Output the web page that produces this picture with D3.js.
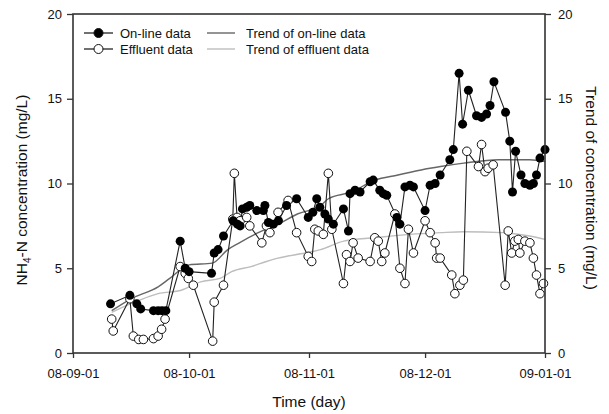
<!DOCTYPE html>
<html>
<head>
<meta charset="utf-8">
<script src="https://cdn.jsdelivr.net/npm/d3@7/dist/d3.min.js"></script>
<style>
    body { margin: 0; background: #fff; }
    svg text { font-family: "Liberation Sans", Arial, sans-serif; fill: #111; }
</style>
</head>
<body>
<script>
// axis ticks
var xTickDates = ["2008-09-01", "2008-10-01", "2008-11-01", "2008-12-01", "2009-01-01"];
var xTickLabels = ["08-09-01", "08-10-01", "08-11-01", "08-12-01", "09-01-01"];
var yTicks = [0, 5, 10, 15, 20];

// on-line data (days after 2008-09-01)
var onlineDays = [9.7, 14.7, 16.5, 17.5, 20.8, 22, 23, 24, 27.7, 29, 30, 35.8, 36.5, 37.5, 38.9,
    41.4, 42.5, 43.2, 43.8, 44.9, 45.7, 47.5, 49.2, 49.6, 50.5, 51.8, 53.1, 55.2, 57.8, 60.8,
    62, 63, 63.8, 65.1, 66, 67.3, 69.9, 71.2, 71.6, 72.9, 74.2, 76.8, 77.6, 79.3, 80.2, 81.1,
    83.7, 84.5, 85.8, 87.1, 88, 91, 92.3, 93.6, 94.9, 97.4, 98.3, 99.8, 100.7, 102.2, 104.3,
    105.6, 106.9, 107.8, 108.8, 111.8, 112.9, 113.6, 114.4, 115.8, 116.8, 118.1, 119, 119.8,
    120.7, 122];
var onlineValues = [2.9, 3.4, 2.9, 2.6, 2.5, 2.5, 2.5, 2.5, 6.6, 5.0, 4.8, 4.7, 5.9, 6.1, 6.9,
    7.8, 7.6, 7.5, 8.5, 8.6, 8.7, 8.4, 8.4, 8.7, 7.7, 7.6, 7.8, 8.7, 9.1, 8.0,
    8.3, 9.1, 8.6, 8.2, 7.9, 7.6, 8.5, 7.2, 9.4, 9.6, 9.5, 10.1, 10.2, 9.6, 9.4, 9.3,
    8.0, 7.6, 9.8, 9.9, 9.8, 8.4, 9.9, 10.0, 10.5, 11.4, 12.0, 16.5, 13.5, 15.5, 14.0,
    13.9, 14.1, 14.6, 16.0, 14.2, 12.5, 9.5, 11.9, 10.5, 10.0, 9.9, 10.0, 10.5,
    11.5, 12.0];

// effluent data
var effluentDays = [10, 10.4, 14.7, 15.6, 17, 18.2, 20.8, 22, 22.9, 23.8, 27.7, 29, 29.8, 31.1,
    36.1, 36.5, 38.9, 41.3, 41.7, 42.4, 43.2, 44.9, 45.7, 48.8, 50, 50.9, 53, 55.6, 57.8,
    60.8, 61.7, 62.5, 63.4, 64.7, 66, 66.9, 69.9, 70.7, 71.6, 72.4, 73.7, 76.8, 78, 78.9,
    79.8, 80.6, 83.2, 84.5, 85.8, 86.7, 88, 91, 92.3, 93.6, 94, 94.9, 97.9, 98.7, 100,
    100.9, 101.8, 104.8, 105.6, 106.5, 107.3, 108.6, 111.7, 112.5, 113.4, 114.2, 115.1,
    115.5, 116.8, 118.1, 119, 119.8, 120.7, 121.6];
var effluentValues = [2.0, 1.3, 3.2, 1.0, 0.8, 0.8, 0.85, 1.0, 1.4, 2.0, 5.1, 4.7, 4.4, 4.0,
    0.7, 3.0, 4.0, 7.9, 10.6, 8.0, 7.8, 8.0, 7.5, 6.5, 7.5, 7.1, 8.3, 9.0, 7.1,
    5.7, 5.4, 7.3, 7.2, 7.0, 10.6, 7.3, 4.1, 5.8, 5.4, 6.5, 5.6, 5.4, 6.8, 6.6,
    5.4, 5.9, 8.2, 5.0, 4.1, 7.3, 5.9, 7.8, 7.1, 6.5, 5.6, 5.6, 4.6, 3.5, 4.0,
    4.3, 11.9, 11.0, 12.3, 10.7, 10.9, 11.1, 4.0, 7.2, 5.9, 6.6, 6.7,
    5.9, 6.6, 6.5, 5.6, 4.6, 3.5, 4.1];

// trends
var onlineTrendDays = [10, 15, 22, 25, 30, 36, 40, 43, 47, 53, 58, 64, 66, 72, 78, 84, 90, 95, 101, 110, 118, 122];
var onlineTrendValues = [2.5, 3.2, 3.9, 4.4, 5.2, 5.3, 6.1, 6.5, 7.0, 7.6, 8.2, 8.7, 9.1, 9.5, 10.2, 10.5, 10.8, 11.0, 11.2, 11.4, 11.4, 11.3];
var effluentTrendDays = [10, 17, 22, 28, 33, 38, 41, 46, 50, 53, 60, 64, 70, 78, 87, 95, 101, 111, 118, 122];
var effluentTrendValues = [2.4, 3.1, 3.5, 3.7, 4.2, 4.4, 4.8, 5.1, 5.4, 5.6, 5.9, 6.1, 6.6, 6.8, 7.0, 7.1, 7.15, 7.1, 6.9, 6.7];

var legendLabels = ["On-line data", "Effluent data", "Trend of on-line data", "Trend of effluent data"];

var startDate = new Date(2008, 8, 1);
var endDate = new Date(2009, 0, 1);
var parseDate = d3.timeParse("%Y-%m-%d");

function toPoints(days, values) {
    return days.map(function (d, i) {
        return { date: new Date(startDate.getTime() + d * 864e5), value: values[i] };
    });
}

var svg = d3.select("body").append("svg")
    .attr("width", 609)
    .attr("height", 414);

var x = d3.scaleTime().domain([startDate, endDate]).range([73, 545]);
var y = d3.scaleLinear().domain([0, 20]).range([353, 14]);

var line = d3.line()
    .x(function (d) { return x(d.date); })
    .y(function (d) { return y(d.value); });

var online = toPoints(onlineDays, onlineValues);
var effluent = toPoints(effluentDays, effluentValues);

// trend lines
svg.append("path").datum(toPoints(effluentTrendDays, effluentTrendValues))
    .attr("d", line.curve(d3.curveMonotoneX))
    .attr("fill", "none").attr("stroke", "#bdbdbd").attr("stroke-width", 1.4);
svg.append("path").datum(toPoints(onlineTrendDays, onlineTrendValues))
    .attr("d", line)
    .attr("fill", "none").attr("stroke", "#666").attr("stroke-width", 1.4);
line.curve(d3.curveLinear);

// data lines
svg.append("path").datum(effluent)
    .attr("d", line)
    .attr("fill", "none").attr("stroke", "#222").attr("stroke-width", 1.1);
svg.append("path").datum(online)
    .attr("d", line)
    .attr("fill", "none").attr("stroke", "#222").attr("stroke-width", 1.1);

svg.append("g").selectAll("circle").data(effluent).enter().append("circle")
    .attr("cx", function (d) { return x(d.date); })
    .attr("cy", function (d) { return y(d.value); })
    .attr("r", 4.3)
    .attr("fill", "#fff").attr("stroke", "#111").attr("stroke-width", 1);
svg.append("g").selectAll("circle").data(online).enter().append("circle")
    .attr("cx", function (d) { return x(d.date); })
    .attr("cy", function (d) { return y(d.value); })
    .attr("r", 4.5)
    .attr("fill", "#000");

// axes
var left = svg.append("g").attr("transform", "translate(73,0)")
    .call(d3.axisLeft(y).tickValues(yTicks).tickSize(6).tickPadding(5));
var right = svg.append("g").attr("transform", "translate(545,0)")
    .call(d3.axisRight(y).tickValues(yTicks).tickSize(6).tickPadding(7));
var bottom = svg.append("g").attr("transform", "translate(0,353)")
    .call(d3.axisBottom(x).tickValues(xTickDates.map(parseDate)).tickSize(5).tickPadding(11)
        .tickFormat(function (d, i) { return xTickLabels[i]; }));

[left, right, bottom].forEach(function (g) {
    g.select(".domain").remove();
    g.selectAll("line").attr("stroke", "#333").attr("stroke-width", 1.3);
    g.selectAll("text").style("font-size", "13px").style("font-family", null).attr("fill", "#111");
});

svg.append("rect")
    .attr("x", 73).attr("y", 14)
    .attr("width", 545 - 73).attr("height", 353 - 14)
    .attr("fill", "none").attr("stroke", "#333").attr("stroke-width", 1.6);

// axis titles
svg.append("text")
    .attr("x", 309).attr("y", 407)
    .attr("text-anchor", "middle")
    .style("font-size", "15.5px")
    .text("Time (day)");

var yTitle = svg.append("text")
    .attr("transform", "translate(27,190) rotate(-90)")
    .attr("text-anchor", "middle")
    .style("font-size", "15.5px");
yTitle.append("tspan").text("NH");
yTitle.append("tspan").text("4").style("font-size", "10px").attr("dy", 4);
yTitle.append("tspan").text("-N concentration (mg/L)").attr("dy", -4);

svg.append("text")
    .attr("transform", "translate(586,188) rotate(90)")
    .attr("text-anchor", "middle")
    .style("font-size", "15.5px")
    .text("Trend of concentration (mg/L)");

// legend
var legendRows = [33, 49];
legendRows.forEach(function (ly, i) {
    svg.append("line").attr("x1", 84).attr("x2", 113).attr("y1", ly).attr("y2", ly)
        .attr("stroke", "#111").attr("stroke-width", 1.2);
    svg.append("circle").attr("cx", 98.5).attr("cy", ly).attr("r", 4.5)
        .attr("fill", i === 0 ? "#000" : "#fff").attr("stroke", "#111");
    svg.append("text").attr("x", 120).attr("y", ly + 4.5).style("font-size", "13px")
        .text(legendLabels[i]);

    svg.append("line").attr("x1", 207).attr("x2", 235).attr("y1", ly).attr("y2", ly)
        .attr("stroke", i === 0 ? "#666" : "#bdbdbd").attr("stroke-width", 1.4);
    svg.append("text").attr("x", 246).attr("y", ly + 4.5).style("font-size", "13px")
        .text(legendLabels[i + 2]);
});
</script>
</body>
</html>
